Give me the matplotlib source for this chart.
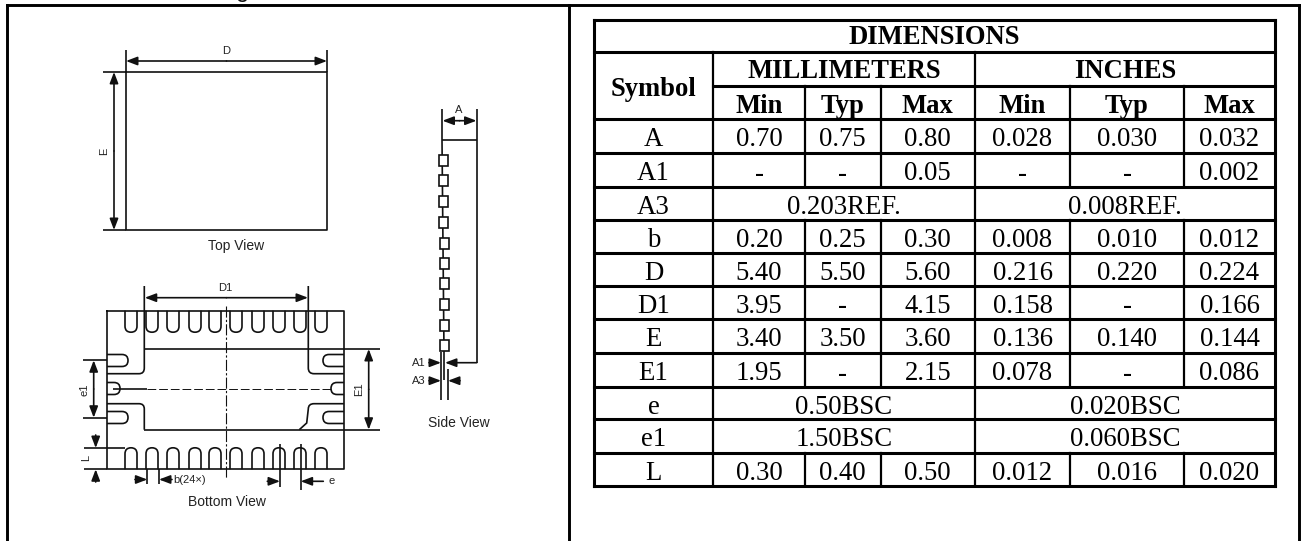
import matplotlib

matplotlib.use("Agg")
import matplotlib.pyplot as plt
from matplotlib.path import Path
from matplotlib.patches import PathPatch

# %% table content
title = "DIMENSIONS"
unit_labels = ["MILLIMETERS", "INCHES"]
limit_labels = ["Min", "Typ", "Max"]
symbols = ["A", "A1", "A3", "b", "D", "D1", "E", "E1", "e", "e1", "L"]
mm_values = [
    ["0.70", "0.75", "0.80"],
    ["-", "-", "0.05"],
    ["0.203REF."],
    ["0.20", "0.25", "0.30"],
    ["5.40", "5.50", "5.60"],
    ["3.95", "-", "4.15"],
    ["3.40", "3.50", "3.60"],
    ["1.95", "-", "2.15"],
    ["0.50BSC"],
    ["1.50BSC"],
    ["0.30", "0.40", "0.50"],
]
inch_values = [
    ["0.028", "0.030", "0.032"],
    ["-", "-", "0.002"],
    ["0.008REF."],
    ["0.008", "0.010", "0.012"],
    ["0.216", "0.220", "0.224"],
    ["0.158", "-", "0.166"],
    ["0.136", "0.140", "0.144"],
    ["0.078", "-", "0.086"],
    ["0.020BSC"],
    ["0.060BSC"],
    ["0.012", "0.016", "0.020"],
]

# table grid, in pixels of the figure
col_x = [594, 713, 805, 880.5, 975, 1070, 1184, 1275]
row_y = [20, 52, 86, 119, 153, 187, 220, 253, 286, 319, 353, 387, 419, 453, 486]

# drawing layout, in pixels of the figure
top_pad_x = [131, 152, 173, 195, 215, 236, 258, 279, 300, 321]
side_pad_x = [443, 443, 443.5, 443.5, 444, 444.5, 444.5, 444.5, 444.5, 444.5]
side_pad_y = [160, 180, 201, 222, 243, 263, 283, 304, 325, 345]
edge_pad_y = [360.5, 388.5, 417.5]

INK = "#111111"
LW = 1.2


def line(ax, xs, ys, lw=LW, **kwargs):
    ax.plot(xs, ys, color=INK, lw=lw, solid_capstyle="butt", **kwargs)


def arrow(ax, start, tip):
    ax.annotate(
        "",
        xy=tip,
        xytext=start,
        arrowprops=dict(
            arrowstyle="-|>,head_length=0.42,head_width=0.16",
            mutation_scale=16,
            color=INK,
            lw=LW,
            shrinkA=0,
            shrinkB=0,
        ),
    )


def double_arrow(ax, start, end):
    mid = ((start[0] + end[0]) / 2, (start[1] + end[1]) / 2)
    arrow(ax, mid, start)
    arrow(ax, mid, end)


def label(ax, x, y, text, size=8, rotation=0, ha="center"):
    ax.text(x, y, text, family="Liberation Sans", fontsize=size, color="#222222",
            ha=ha, va="center", rotation=rotation)


def curve(ax, verts, codes):
    ax.add_patch(PathPatch(Path(verts, codes), fc="none", ec=INK, lw=LW))


def u_pad(ax, x0, y0, hw, length, horizontal=False):
    # pad with a rounded end, open on the package edge
    k = hw if length > 0 else -hw
    d = length - k
    pts = [(-hw, 0), (-hw, d), (-hw, length), (0, length), (hw, length), (hw, d), (hw, 0)]
    if horizontal:
        verts = [(x0 + b, y0 + a) for a, b in pts]
    else:
        verts = [(x0 + a, y0 + b) for a, b in pts]
    codes = [Path.MOVETO, Path.LINETO, Path.CURVE3, Path.CURVE3, Path.CURVE3, Path.CURVE3, Path.LINETO]
    curve(ax, verts, codes)


fig = plt.figure(figsize=(13.03, 5.41), dpi=100)
ax = fig.add_axes([0, 0, 1, 1])
ax.set_xlim(0, 1303)
ax.set_ylim(541, 0)
ax.axis("off")

# %% outer frame
frame_lw = 2.1
ax.plot([6.5, 6.5], [541, 4.5], color="k", lw=frame_lw, solid_capstyle="projecting")
ax.plot([6.5, 1299], [4.5, 4.5], color="k", lw=frame_lw, solid_capstyle="projecting")
ax.plot([1299, 1299], [4.5, 541], color="k", lw=frame_lw, solid_capstyle="projecting")
ax.plot([569, 569], [4.5, 541], color="k", lw=frame_lw)
# descender of the heading cut off by the page crop
ax.text(243, -3, "g", family="Liberation Sans", fontsize=17, ha="center", va="baseline", color=INK)

# %% top view
ax.plot([125.5, 327, 327, 125.5, 125.5], [72, 72, 230, 230, 72], color=INK, lw=LW)
line(ax, [125.5, 125.5], [50, 72])
line(ax, [327, 327], [50, 72])
line(ax, [102.5, 125.5], [72, 72])
line(ax, [102.5, 125.5], [230, 230])
double_arrow(ax, (126, 61), (327, 61))
double_arrow(ax, (114, 72), (114, 230))
label(ax, 226, 51, "D")
label(ax, 104, 151, "E", rotation=90)
label(ax, 236, 246, "Top View", size=10)

# %% side view
line(ax, [442, 442], [109, 140])
line(ax, [476.7, 476.7], [109, 140])
line(ax, [442, 476.7], [140, 140])
line(ax, [476.7, 476.7], [140, 362.7])
line(ax, [442, 444], [140, 352])
double_arrow(ax, (442.5, 120.7), (476.5, 120.7))
label(ax, 459, 110, "A")
for pad_x, pad_y in zip(side_pad_x, side_pad_y):
    ax.add_patch(plt.Rectangle((pad_x - 4.5, pad_y - 5.5), 9, 11, fc="white", ec=INK, lw=LW, zorder=3))
line(ax, [441, 441], [352, 400])
line(ax, [443.5, 443.5], [352, 380])
line(ax, [447.7, 447.7], [369, 400])
arrow(ax, (476.7, 362.7), (445, 362.7))
arrow(ax, (429, 362.7), (441, 362.7))
arrow(ax, (429, 380.7), (441, 380.7))
arrow(ax, (460, 380.7), (448, 380.7))
label(ax, 418.5, 362.5, "A1")
label(ax, 419, 380.5, "A3")
label(ax, 459, 423, "Side View", size=10)

# %% bottom view
ax.plot([107, 344, 344, 107, 107], [310.7, 310.7, 469.3, 469.3, 310.7], color=INK, lw=LW)
for pad_x in top_pad_x:
    u_pad(ax, pad_x, 310.7, 6, 21.5)
    u_pad(ax, pad_x, 469.3, 6, -21.5)
for pad_y, depth in zip(edge_pad_y, [21, 13, 21]):
    u_pad(ax, 107, pad_y, 6, depth, horizontal=True)
    u_pad(ax, 344, pad_y, 6, -depth, horizontal=True)

# exposed pad outline
line(ax, [144.3, 380], [349, 349])
line(ax, [144.3, 380], [429.7, 429.7])
curve(ax, [(144.3, 286), (144.3, 368), (144.3, 373.7), (139, 373.7), (107, 373.7)],
      [Path.MOVETO, Path.LINETO, Path.CURVE3, Path.CURVE3, Path.LINETO])
curve(ax, [(308.3, 286), (308.3, 368), (308.3, 373.7), (314, 373.7), (344, 373.7)],
      [Path.MOVETO, Path.LINETO, Path.CURVE3, Path.CURVE3, Path.LINETO])
curve(ax, [(107, 403.7), (139, 403.7), (144.3, 403.7), (144.3, 409), (144.3, 429.7)],
      [Path.MOVETO, Path.LINETO, Path.CURVE3, Path.CURVE3, Path.LINETO])
curve(ax, [(344, 403.7), (314, 403.7), (308.3, 403.7), (308.3, 409), (306.7, 423), (299.3, 429.7)],
      [Path.MOVETO, Path.LINETO, Path.CURVE3, Path.CURVE3, Path.LINETO, Path.LINETO])

# centre lines
ax.plot([226.3, 226.3], [306, 477.5], color=INK, lw=0.8, ls=(0, (10, 2, 2, 2)))
line(ax, [113.3, 146.7], [388.5, 388.5])
ax.plot([146.7, 331], [388.5, 388.5], color=INK, lw=0.7, ls=(0, (9, 3)))

# D1
double_arrow(ax, (144.8, 297.7), (308, 297.7))
label(ax, 225.7, 288, "D1")
# E1
double_arrow(ax, (368.7, 349), (368.7, 429.7))
label(ax, 359, 389, "E1", rotation=90)
# e1
line(ax, [83.3, 107], [360.3, 360.3])
line(ax, [83.3, 107], [417.7, 417.7])
double_arrow(ax, (93.7, 360.3), (93.7, 417.7))
label(ax, 85, 389.5, "e1", rotation=90)
# L
line(ax, [84, 125], [448, 448])
line(ax, [84, 107], [469.3, 469.3])
arrow(ax, (95.7, 435), (95.7, 448))
arrow(ax, (95.7, 482), (95.7, 469.3))
label(ax, 86, 457.5, "L", rotation=90)
# b
line(ax, [147.3, 147.3], [469.3, 483.5])
line(ax, [159, 159], [469.3, 483.5])
arrow(ax, (135, 479.5), (147.3, 479.5))
arrow(ax, (172, 479.5), (159, 479.5))
label(ax, 173, 480, "b(24×)", ha="left")
# e
line(ax, [280, 280], [444, 486.5])
line(ax, [300.7, 300.7], [444, 490])
arrow(ax, (267.3, 481.3), (280, 481.3))
arrow(ax, (323.3, 481.3), (300.7, 481.3))
label(ax, 331.5, 481.5, "e")
label(ax, 227, 502, "Bottom View", size=10)

# %% table
table_font = dict(family="Liberation Serif", fontsize=19.3, color="k", ha="center", va="center")
bold_font = dict(table_font, fontweight="bold", fontsize=19.2)
hline_lw, vline_lw = 2.2, 1.6


def row_mid(i, shift=4):
    return (row_y[i] + row_y[i + 1]) / 2 + shift


def col_mid(i, j):
    return (col_x[i] + col_x[j]) / 2


# horizontal rules: the unit row has no rule across the symbol column
ax.plot([col_x[0], col_x[-1]], [row_y[0], row_y[0]], color="k", lw=hline_lw, solid_capstyle="projecting")
ax.plot([col_x[0], col_x[-1]], [row_y[1], row_y[1]], color="k", lw=hline_lw)
ax.plot([col_x[1], col_x[-1]], [row_y[2], row_y[2]], color="k", lw=hline_lw)
for y in row_y[3:]:
    ax.plot([col_x[0], col_x[-1]], [y, y], color="k", lw=hline_lw, solid_capstyle="projecting")

# vertical rules
merged = [len(v) == 1 for v in mm_values]
for x in (col_x[0], col_x[-1]):
    ax.plot([x, x], [row_y[0], row_y[-1]], color="k", lw=hline_lw)
for x in (col_x[1], col_x[4]):
    ax.plot([x, x], [row_y[1], row_y[-1]], color="k", lw=vline_lw)
for x in (col_x[2], col_x[3], col_x[5], col_x[6]):
    ax.plot([x, x], [row_y[2], row_y[3]], color="k", lw=vline_lw)
    for i, is_merged in enumerate(merged):
        if not is_merged:
            ax.plot([x, x], [row_y[i + 3], row_y[i + 4]], color="k", lw=vline_lw)

# headers
ax.text(col_mid(0, -1), row_mid(0, 1), title, **bold_font)
ax.text(col_mid(0, 1), (row_y[1] + row_y[3]) / 2 + 4, "Symbol", **bold_font)
ax.text(col_mid(1, 4), row_mid(1, 3), unit_labels[0], **bold_font)
ax.text(col_mid(4, 7), row_mid(1, 3), unit_labels[1], **bold_font)
for k, name in enumerate(limit_labels):
    ax.text(col_mid(1 + k, 2 + k), row_mid(2), name, **bold_font)
    ax.text(col_mid(4 + k, 5 + k), row_mid(2), name, **bold_font)

# body
for i, symbol in enumerate(symbols):
    y = row_mid(i + 3)
    ax.text(col_mid(0, 1), y, symbol, **table_font)
    for values, first in ((mm_values[i], 1), (inch_values[i], 4)):
        if len(values) == 1:
            ax.text(col_mid(first, first + 3), y, values[0], **table_font)
        else:
            for k, value in enumerate(values):
                ax.text(col_mid(first + k, first + k + 1), y, value, **table_font)

fig.savefig("out.png", dpi=100)
